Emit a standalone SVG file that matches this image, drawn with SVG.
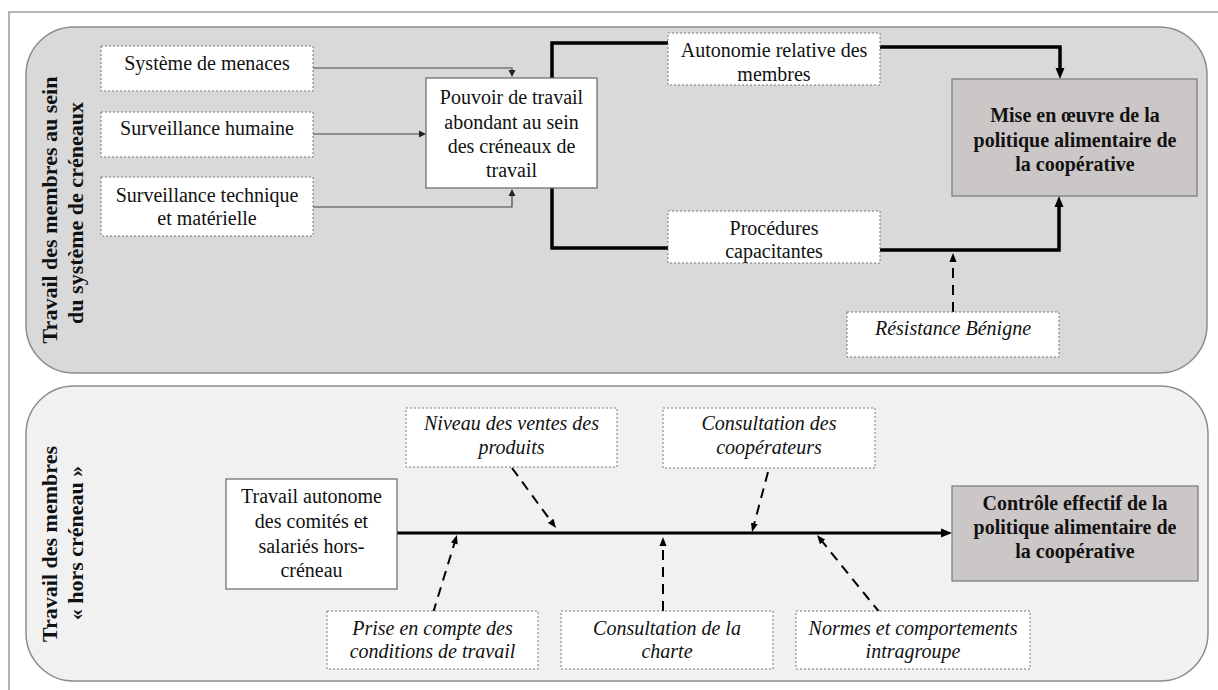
<svg xmlns="http://www.w3.org/2000/svg" width="1218" height="690" viewBox="0 0 1218 690">
<style>
  text { font-family: "Liberation Serif", "Times New Roman", serif; fill: #111; }
  .t { font-size: 20px; text-anchor: middle; }
  .i { font-size: 20px; font-style: italic; text-anchor: middle; }
  .b { font-size: 20px; font-weight: bold; text-anchor: middle; }
  .title { font-size: 22px; font-weight: bold; text-anchor: middle; }
  .dotbox { fill: #ffffff; stroke: #777; stroke-width: 1; stroke-dasharray: 2 2; }
  .solidbox { fill: #ffffff; stroke: #666; stroke-width: 1.2; }
  .goal { fill: #ccc7c7; stroke: #777; stroke-width: 1.2; }
  .thin { fill: none; stroke: #444; stroke-width: 1.2; }
  .thick { fill: none; stroke: #000; stroke-width: 3.5; }
  .main { fill: none; stroke: #000; stroke-width: 3; }
  .dash { fill: none; stroke: #000; stroke-width: 2; stroke-dasharray: 10 7; }
</style>
<defs>
  <marker id="ah-thin" markerUnits="userSpaceOnUse" markerWidth="8" markerHeight="8" viewBox="0 -4 8 8" refX="1" refY="0" orient="auto">
    <path d="M0,-3.5 L7,0 L0,3.5 z" fill="#222"/>
  </marker>
  <marker id="ah-thick" markerUnits="userSpaceOnUse" markerWidth="12" markerHeight="10" viewBox="0 -5 12 10" refX="1" refY="0" orient="auto">
    <path d="M0,-4.5 L11,0 L0,4.5 z" fill="#000"/>
  </marker>
  <marker id="ah-dash" markerUnits="userSpaceOnUse" markerWidth="10" markerHeight="8" viewBox="0 -4 10 8" refX="1" refY="0" orient="auto">
    <path d="M0,-3.5 L9,0 L0,3.5 z" fill="#000"/>
  </marker>
</defs>
<rect x="0" y="0" width="1218" height="690" fill="#ffffff"/>
<path d="M9,690 V12 H1218" fill="none" stroke="#b3b3b3" stroke-width="2"/>

<g id="panel-top">
  <rect x="26" y="27" width="1181" height="346" rx="48" ry="48" fill="#d9d9d9" stroke="#8c8c8c" stroke-width="1.5"/>
  <text class="title" transform="translate(57,210) rotate(-90)">Travail des membres au sein</text>
  <text class="title" transform="translate(83,213) rotate(-90)">du système de créneaux</text>
</g>
<g id="panel-bottom">
  <rect x="26" y="386" width="1182" height="295" rx="48" ry="48" fill="#f1f1f1" stroke="#8c8c8c" stroke-width="1.5"/>
  <text class="title" transform="translate(57,544) rotate(-90)">Travail des membres</text>
  <text class="title" transform="translate(83,543) rotate(-90)">« hors créneau »</text>
</g>

<g id="connectors">
  <path class="thin" d="M313,68 H512 V71" marker-end="url(#ah-thin)"/>
  <path class="thin" d="M313,134 H420" marker-end="url(#ah-thin)"/>
  <path class="thin" d="M313,207 H512 V195" marker-end="url(#ah-thin)"/>
  <path class="thick" d="M552,78 V43 H668"/>
  <path class="thick" d="M880,47 H1060 V69" marker-end="url(#ah-thick)"/>
  <path class="thick" d="M552,188 V248 H668"/>
  <path class="thick" d="M880,250 H1059 V206" marker-end="url(#ah-thick)"/>
  <path class="dash" d="M953,312 V261" marker-end="url(#ah-dash)"/>
  <path class="main" d="M397,533 H942" marker-end="url(#ah-thick)"/>
  <path class="dash" d="M512,468 L551.3,521.6" marker-end="url(#ah-dash)"/>
  <path class="dash" d="M433,613 L454.6,542.6" marker-end="url(#ah-dash)"/>
  <path class="dash" d="M663,611 V545" marker-end="url(#ah-dash)"/>
  <path class="dash" d="M768,472 L754.1,524.3" marker-end="url(#ah-dash)"/>
  <path class="dash" d="M880,613 L822,541.2" marker-end="url(#ah-dash)"/>
</g>

<g id="n-menaces">
  <rect class="dotbox" x="101" y="46" width="212" height="45"/>
  <text class="t" x="207" y="70">Système de menaces</text>
</g>
<g id="n-humaine">
  <rect class="dotbox" x="101" y="112" width="212" height="45"/>
  <text class="t" x="207" y="135">Surveillance humaine</text>
</g>
<g id="n-technique">
  <rect class="dotbox" x="101" y="177" width="212" height="59"/>
  <text class="t" x="207" y="202">Surveillance technique</text>
  <text class="t" x="207" y="225">et matérielle</text>
</g>
<g id="n-pouvoir">
  <rect class="solidbox" x="426" y="78" width="171" height="110"/>
  <text class="t" x="511.5" y="104">Pouvoir de travail</text>
  <text class="t" x="511.5" y="129">abondant au sein</text>
  <text class="t" x="511.5" y="153">des créneaux de</text>
  <text class="t" x="511.5" y="177">travail</text>
</g>
<g id="n-autonomie">
  <rect class="dotbox" x="668" y="33" width="212" height="52"/>
  <text class="t" x="774" y="57">Autonomie relative des</text>
  <text class="t" x="774" y="81">membres</text>
</g>
<g id="n-procedures">
  <rect class="dotbox" x="668" y="211" width="212" height="52"/>
  <text class="t" x="774" y="235">Procédures</text>
  <text class="t" x="774" y="258">capacitantes</text>
</g>
<g id="n-mise">
  <rect class="goal" x="952" y="79" width="245" height="117"/>
  <text class="b" x="1075" y="122">Mise en œuvre de la</text>
  <text class="b" x="1075" y="146.5">politique alimentaire de</text>
  <text class="b" x="1075" y="171">la coopérative</text>
</g>
<g id="n-resistance">
  <rect class="dotbox" x="847" y="312" width="212" height="45"/>
  <text class="i" x="953" y="335">Résistance Bénigne</text>
</g>

<g id="n-autonome">
  <rect class="solidbox" x="226" y="479" width="171" height="110"/>
  <text class="t" x="311.5" y="503">Travail autonome</text>
  <text class="t" x="311.5" y="528">des comités et</text>
  <text class="t" x="311.5" y="553">salariés hors-</text>
  <text class="t" x="311.5" y="577">créneau</text>
</g>
<g id="n-niveau">
  <rect class="dotbox" x="406" y="408" width="211" height="59"/>
  <text class="i" x="511.5" y="430">Niveau des ventes des</text>
  <text class="i" x="511.5" y="454">produits</text>
</g>
<g id="n-cooperateurs">
  <rect class="dotbox" x="663" y="408" width="212" height="60"/>
  <text class="i" x="769" y="430">Consultation des</text>
  <text class="i" x="769" y="454">coopérateurs</text>
</g>
<g id="n-prise">
  <rect class="dotbox" x="327" y="611" width="211" height="58"/>
  <text class="i" x="432.5" y="635">Prise en compte des</text>
  <text class="i" x="432.5" y="658">conditions de travail</text>
</g>
<g id="n-charte">
  <rect class="dotbox" x="561" y="611" width="212" height="58"/>
  <text class="i" x="667" y="635">Consultation de la</text>
  <text class="i" x="667" y="658">charte</text>
</g>
<g id="n-normes">
  <rect class="dotbox" x="796" y="611" width="234" height="58"/>
  <text class="i" x="913" y="635">Normes et comportements</text>
  <text class="i" x="913" y="658">intragroupe</text>
</g>
<g id="n-controle">
  <rect class="goal" x="952" y="486" width="246" height="95"/>
  <text class="b" x="1075" y="510">Contrôle effectif de la</text>
  <text class="b" x="1075" y="534">politique alimentaire de</text>
  <text class="b" x="1075" y="558">la coopérative</text>
</g>
</svg>
